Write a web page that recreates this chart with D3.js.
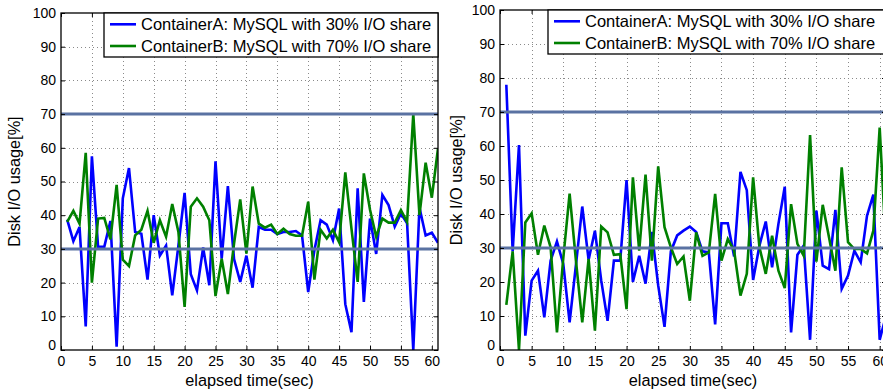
<!DOCTYPE html>
<html><head><meta charset="utf-8">
<script src="https://cdn.jsdelivr.net/npm/d3@7"></script>
<style>
body{margin:0;background:#fff;overflow:hidden}
text{font-family:"Liberation Sans",Arial,Helvetica,sans-serif;fill:#000}
</style></head><body>
<svg id="c" width="883" height="391"></svg>
<script>
const seconds = [1,2,3,4,5,6,7,8,9,10,11,12,13,14,15,16,17,18,19,20,21,22,23,24,25,26,27,28,29,30,
  31,32,33,34,35,36,37,38,39,40,41,42,43,44,45,46,47,48,49,50,51,52,53,54,55,56,57,58,59,60,61];
const xTicks = [0,5,10,15,20,25,30,35,40,45,50,55,60];
const yTicks = [0,10,20,30,40,50,60,70,80,90,100];
const shareLevels = [30,70];
const seriesNames = ["ContainerA: MySQL with 30% I/O share","ContainerB: MySQL with 70% I/O share"];
const seriesColors = ["#0000ff","#008000"];
const xLabel = "elapsed time(sec)";
const yLabel = "Disk I/O usage[%]";

const leftA = [38.7,32.3,36.5,7,57.5,30.6,30.6,38.3,1,45,
  54,35,34.5,20.9,40,28,31,16.2,31,46.6,
  22.5,17.7,30.4,19.2,56,27.1,48.6,27,20.2,28,
  18.5,36.5,35.7,35.7,34.4,35,35,35.3,34,17.2,
  29.6,38.5,37.2,32.6,42,13.6,5.3,48,14.3,39,
  28.5,46,43,36.6,40.5,37.6,0,42.3,34,34.8,31.8];
const leftB = [38,41.3,37.5,58.5,20,39,39.2,32.8,49,26.8,
  24.9,34,35.7,41.3,31.8,38.5,33.6,43.3,35,12.8,
  42.5,45,42.5,38.5,16,27.1,16.6,31.6,44.7,28.6,
  48.5,37.5,36.3,37.2,34.4,36,34.4,33.9,33.9,44,
  20.9,35.7,33.1,35.7,32,52.7,36,20.2,52.4,41.6,
  33.6,39,37.8,37.8,41.5,38,70,40,55.6,45.2,59.8];
const rightA = [78,29,60.3,4.2,20.4,23.3,9.6,26.3,31.9,25.3,
  8.1,25,42.2,26.5,35.1,20.4,8.6,26.3,26.3,50,
  20,27.7,19.5,34.7,19,6.8,29,33.7,35.1,36.3,
  34.7,29,28.7,7.5,37.3,37.3,27.5,52.4,47,20.6,
  30.7,37.8,24.3,37.1,48,5.2,28,30.7,3,41,
  24.8,23.8,41.2,18,21.9,29.2,25.8,39.5,45.7,3,10];
const rightB = [13.3,29,0,37.5,40.2,28,36.6,30.2,5.2,27,
  46,26.3,8.1,26.8,5.7,36.3,34.6,28,28.2,12,
  50.8,29.2,51.6,26.3,54,36.1,30.2,25.3,27.5,14.5,
  34.6,27.7,28.7,45.9,26.3,32.6,29.2,16,22.4,50.8,
  30.2,22.4,33.6,23.3,18.2,42.9,31.2,27.7,63.2,26,
  42.7,33.1,23.3,53.7,31.7,29.7,29.7,28.4,35.1,65.4,30];

const panels = [
  {series:[leftA,leftB], x0:61, x1:438, y0:13, y1:350, legX:104, ylabX:14},
  {series:[rightA,rightB], x0:500, x1:886, y0:10, y1:350, legX:548, ylabX:456}
];

const svg = d3.select("#c");

panels.forEach((p,i)=>{
  const x = d3.scaleLinear().domain([0,61]).range([p.x0,p.x1]);
  const y = d3.scaleLinear().domain([0,100]).range([p.y1,p.y0]);
  const g = svg.append("g");
  const clipId = "clip"+i;
  g.append("clipPath").attr("id",clipId).append("rect")
    .attr("x",p.x0).attr("y",p.y0).attr("width",p.x1-p.x0).attr("height",p.y1-p.y0);

  // grid
  const grid = g.append("g").attr("stroke","#8a8a8a").attr("stroke-width",1).attr("stroke-dasharray","1,3");
  grid.selectAll(".gx").data(xTicks.filter(t=>t>0)).enter().append("line")
    .attr("x1",d=>Math.round(x(d))+0.5).attr("x2",d=>Math.round(x(d))+0.5)
    .attr("y1",p.y0).attr("y2",p.y1);
  grid.selectAll(".gy").data(yTicks.filter(t=>t>0&&t<100)).enter().append("line")
    .attr("y1",d=>Math.round(y(d))+0.5).attr("y2",d=>Math.round(y(d))+0.5)
    .attr("x1",p.x0).attr("x2",p.x1);

  // data
  const line = d3.line().x((d,k)=>x(seconds[k])).y(d=>y(d));
  const dg = g.append("g").attr("clip-path","url(#"+clipId+")");
  p.series.forEach((s,k)=>{
    dg.append("path").datum(s).attr("d",line).attr("fill","none")
      .attr("stroke",seriesColors[k]).attr("stroke-width",2.6).attr("stroke-linejoin","miter");
  });
  // share reference lines
  dg.selectAll(".ref").data(shareLevels).enter().append("line")
    .attr("x1",p.x0).attr("x2",p.x1).attr("y1",d=>y(d)).attr("y2",d=>y(d))
    .attr("stroke","#5a72a2").attr("stroke-width",3);

  // axes with inward ticks
  const bottom = g.append("g").attr("transform",`translate(0,${p.y1})`)
    .call(d3.axisBottom(x).tickValues(xTicks).tickSizeInner(-4).tickSizeOuter(0).tickPadding(6).tickFormat(d3.format("d")));
  const left = g.append("g").attr("transform",`translate(${p.x0},0)`)
    .call(d3.axisLeft(y).tickValues(yTicks).tickSizeInner(-4).tickSizeOuter(0).tickPadding(5).tickFormat(d3.format("d")));
  const top = g.append("g").attr("transform",`translate(0,${p.y0})`)
    .call(d3.axisTop(x).tickValues(xTicks).tickSizeInner(-4).tickSizeOuter(0).tickFormat(""));
  const right = g.append("g").attr("transform",`translate(${p.x1},0)`)
    .call(d3.axisRight(y).tickValues(yTicks).tickSizeInner(-4).tickSizeOuter(0).tickFormat(""));
  [bottom,left,top,right].forEach(a=>{
    a.select(".domain").remove();
    a.selectAll("line").attr("stroke","#000");
    a.selectAll("text").attr("font-size",14).attr("font-family","Liberation Sans, Arial, sans-serif").attr("fill","#000");
  });
  left.selectAll(".tick").filter(d=>d===0).select("text").attr("y",-5);

  // border
  g.append("rect").attr("x",p.x0).attr("y",p.y0).attr("width",p.x1-p.x0).attr("height",p.y1-p.y0)
    .attr("fill","none").attr("stroke","#000").attr("stroke-width",1.3);

  // legend
  const lg = g.append("g");
  lg.append("rect").attr("x",p.legX).attr("y",p.y0).attr("width",p.x1-p.legX).attr("height",44)
    .attr("fill","#fff").attr("stroke","#000").attr("stroke-width",1.3);
  seriesNames.forEach((n,k)=>{
    const cy = p.y0 + 11.3 + k*21.7;
    lg.append("line").attr("x1",p.legX+6).attr("x2",p.legX+32).attr("y1",cy).attr("y2",cy)
      .attr("stroke",seriesColors[k]).attr("stroke-width",2.6);
    lg.append("text").attr("x",p.legX+37).attr("y",cy).attr("dy","0.36em")
      .attr("font-size",16.5).text(n);
  });

  // axis labels
  g.append("text").attr("x",(p.x0+p.x1)/2).attr("y",386).attr("text-anchor","middle")
    .attr("font-size",16.3).text(xLabel);
  g.append("text").attr("transform",`translate(${p.ylabX},${(p.y0+p.y1)/2}) rotate(-90)`)
    .attr("text-anchor","middle").attr("dy","0.35em").attr("font-size",16.3).text(yLabel);
});
</script>
</body></html>
